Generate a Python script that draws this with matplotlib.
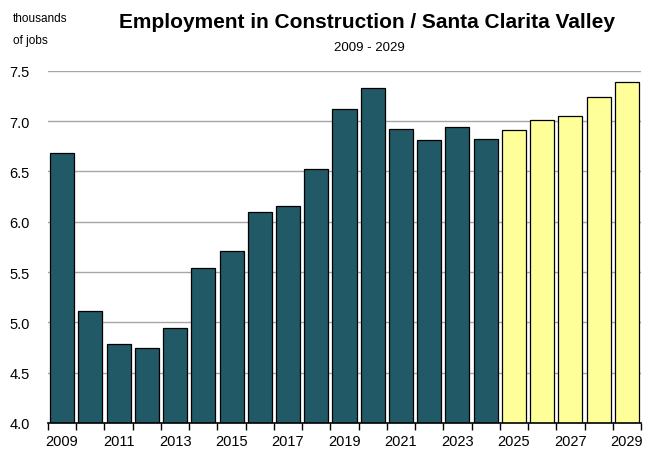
import numpy as np
import matplotlib
matplotlib.use('Agg')
import matplotlib.pyplot as plt

plt.rcParams['font.family'] = ['Liberation Sans', 'DejaVu Sans']

# employment in construction, thousands of jobs
years = list(range(2009, 2030))
actual = [6.68, 5.11, 4.78, 4.75, 4.94, 5.54, 5.71, 6.10, 6.16, 6.52,
          7.12, 7.33, 6.92, 6.81, 6.94, 6.82]
forecast = [6.91, 7.01, 7.05, 7.24, 7.39]

dark = '#225966'
light = '#ffff99'

fig = plt.figure(figsize=(6.61, 4.52), dpi=100)
ax = fig.add_axes([48/661, 1 - 424/452, (641 - 48)/661, (424 - 71.7)/452])

values = actual + forecast
colors = [dark]*len(actual) + [light]*len(forecast)
x = np.arange(len(years))
ax.bar(x, values, width=0.85, color=colors, edgecolor='black', linewidth=0.9, zorder=3)

ax.set_ylim(4.0, 7.5)
ax.set_xlim(-0.5, len(years) - 0.5)
ax.set_yticks(np.arange(4.0, 7.51, 0.5))
ax.set_yticklabels(['%.1f' % v for v in np.arange(4.0, 7.51, 0.5)], fontsize=10.5)
ax.tick_params(axis='y', length=0, pad=13)
ax.yaxis.grid(True, color='#a6a6a6', linewidth=1.0, zorder=0)

# ticks between bars, labels on odd years
ax.set_xticks(np.arange(-0.5, len(years), 1.0))
ax.set_xticklabels([])
ax.tick_params(axis='x', which='major', length=5, width=1, color='black')
ax.set_xticks(x[::2], minor=True)
ax.set_xticklabels([str(y) for y in years[::2]], minor=True, fontsize=10.5)
ax.tick_params(axis='x', which='minor', length=0, pad=8)

for s in ['top', 'right', 'left']:
    ax.spines[s].set_visible(False)
ax.spines['bottom'].set_linewidth(1.2)
ax.spines['bottom'].set_zorder(4)

fig.text(367/661, 1 - 22/452, 'Employment in Construction / Santa Clarita Valley',
         ha='center', va='center', fontsize=15, fontweight='bold')
fig.text(369/661, 1 - 48/452, '2009 - 2029', ha='center', va='center', fontsize=9.5)
fig.text(13/661, 1 - 30/452, 'thousands\nof jobs', ha='left', va='center',
         fontsize=8.5, linespacing=2.2)

fig.savefig('out.png', dpi=100)
